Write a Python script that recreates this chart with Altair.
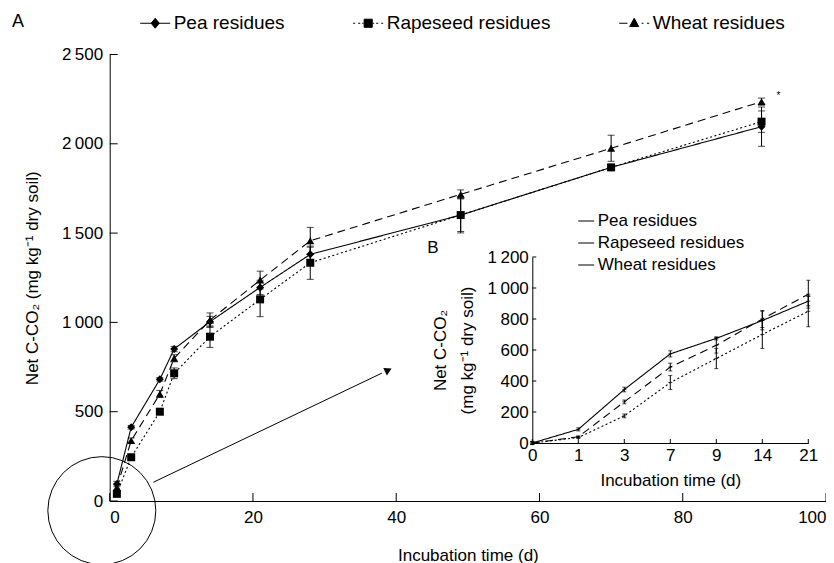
import altair as alt
import pandas as pd

series = ["Pea residues", "Rapeseed residues", "Wheat residues"]

# Main panel A (cumulative net C-CO2)
days = [1, 3, 7, 9, 14, 21, 28, 49, 70, 91]
pea = [95, 413, 681, 851, 1004, 1196, 1381, 1601, 1868, 2096]
pea_err = [15, 10, 10, 15, 30, 40, 40, 100, 15, 110]
rape = [40, 245, 500, 715, 920, 1129, 1334, 1601, 1868, 2124]
rape_err = [10, 15, 15, 30, 60, 97, 93, 92, 15, 60]
wheat = [75, 338, 599, 799, 1013, 1237, 1457, 1717, 1975, 2236]
wheat_err = [15, 15, 20, 20, 40, 50, 75, 25, 73, 20]

# Inset panel B
inset_days = ["0", "1", "3", "7", "9", "14", "21"]
inset_pea = [0, 88, 345, 575, 675, 790, 915]
inset_pea_err = [10, 10, 15, 20, 10, 60, 30]
inset_rape = [0, 35, 175, 390, 545, 700, 850]
inset_rape_err = [10, 6, 12, 45, 65, 90, 100]
inset_wheat = [0, 40, 265, 490, 630, 800, 960]
inset_wheat_err = [10, 6, 12, 25, 50, 55, 90]

x_ticks = [0, 20, 40, 60, 80, 100]
y_ticks = [0, 500, 1000, 1500, 2000, 2500]
inset_y_ticks = [0, 200, 400, 600, 800, 1000, 1200]

circle_center = [-1.1, -54]
arrow_x = [6.1, 38.0]
arrow_y = [105, 716]
arrow_head = [38.9, 733]
panel_labels = ["A", "B"]

legend_paths = [
    "M-1,0L1,0M0,-0.33L0.27,0L0,0.33L-0.27,0Z",
    "M-1,0L-0.87,0M-0.67,0L-0.53,0M-0.4,0L-0.3,0M0.3,0L0.4,0M0.53,0L0.67,0M0.87,0L1,0"
    "M-0.27,-0.27L0.27,-0.27L0.27,0.27L-0.27,0.27Z",
    "M-1,0L-0.45,0M0.5,0L0.62,0M0.85,0L1,0M0,-0.33L0.3,0.22L-0.3,0.22Z",
]

FONT = "Liberation Sans"
W, H = 716.3, 446.5
X0, Y0 = 109.7, 54.5
IX0, IX1 = 422.6, 698.6
IY0, IY1 = 388.5, 202.5


def long(xvals, vals_list, errs_list):
    rows = []
    for s, vals, errs in zip(series, vals_list, errs_list):
        for d, v, e in zip(xvals, vals, errs):
            rows.append(dict(series=s, day=d, value=v, lo=v - e, hi=v + e))
    return pd.DataFrame(rows)


main_df = long(days, [pea, rape, wheat], [pea_err, rape_err, wheat_err])
inset_df = long(inset_days, [inset_pea, inset_rape, inset_wheat],
                [inset_pea_err, inset_rape_err, inset_wheat_err])

sep = "replace(format(datum.value, ','), ',', '\u2009')"

xs = alt.Scale(domain=[0, 100], nice=False)
ys = alt.Scale(domain=[0, 2500], nice=False)
x_axis = alt.Axis(values=x_ticks, ticks=False, tickSize=0, labelPadding=8,
                  title="Incubation time (d)", titleY=54, titleBaseline="middle")
y_axis = alt.Axis(values=y_ticks, ticks=False, tickSize=0, labelPadding=7, labelExpr=sep,
                  title="Net C-CO\u2082 (mg kg\u207b\u00b9 dry soil)", titleX=-77, titleY=H / 2,
                  titleAngle=270, titleBaseline="middle")

X = alt.X("day:Q", scale=xs, axis=x_axis)
Y = alt.Y("value:Q", scale=ys, axis=y_axis)
dash_scale = alt.Scale(domain=series, range=[[1, 0], [2, 2.5], [8, 5]])

base = alt.Chart(main_df)
lines = base.mark_line(color="black", strokeWidth=1.1).encode(
    x=X, y=Y, strokeDash=alt.StrokeDash("series:N", scale=dash_scale, legend=None))
err = base.mark_rule(color="black", strokeWidth=1).encode(
    x=X, y=alt.Y("lo:Q", scale=ys, axis=y_axis), y2="hi:Q")
cap_lo = base.mark_point(shape="stroke", size=49, color="black", strokeWidth=1).encode(
    x=X, y=alt.Y("lo:Q", scale=ys, axis=y_axis))
cap_hi = base.mark_point(shape="stroke", size=49, color="black", strokeWidth=1).encode(
    x=X, y=alt.Y("hi:Q", scale=ys, axis=y_axis))
pts = base.mark_point(filled=True, size=64, color="black", opacity=1).encode(
    x=X, y=Y,
    shape=alt.Shape("series:N", scale=alt.Scale(domain=series, range=["diamond", "square", "triangle-up"]),
                    legend=None))
leg = alt.Chart(pd.DataFrame({"series": series})).mark_point(
    filled=True, fill="black", stroke="black", strokeWidth=1, size=0).encode(
    shape=alt.Shape("series:N", scale=alt.Scale(domain=series, range=legend_paths),
                    legend=alt.Legend(orient="none", legendX=30, legendY=-47, direction="horizontal",
                                      title=None, symbolSize=900, symbolStrokeWidth=1,
                                      symbolOpacity=1, labelFontSize=19, labelOffset=3,
                                      labelLimit=400, columnPadding=66, padding=0)))

xt = alt.Chart(pd.DataFrame({"v": x_ticks})).mark_rule(color="black", strokeWidth=1).encode(
    x=alt.X("v:Q", scale=xs, axis=x_axis), y=alt.value(H), y2=alt.value(H - 8))
yt = alt.Chart(pd.DataFrame({"v": y_ticks})).mark_rule(color="black", strokeWidth=1).encode(
    y=alt.Y("v:Q", scale=ys, axis=y_axis), x=alt.value(0), x2=alt.value(8))

star = alt.Chart(pd.DataFrame({"day": [days[-1]], "value": [wheat[-1]], "t": ["*"]})).mark_text(
    fontSize=10, dx=17, dy=-6, color="black").encode(x=X, y=Y, text="t:N")

circ = alt.Chart(pd.DataFrame({"day": [circle_center[0]], "value": [circle_center[1]]})).mark_point(
    shape="circle", size=11664, filled=False, color="black", strokeWidth=1, opacity=1).encode(x=X, y=Y)
arrow = alt.Chart(pd.DataFrame({"day": arrow_x, "value": arrow_y})).mark_line(
    color="black", strokeWidth=1).encode(x=X, y=Y)
head = alt.Chart(pd.DataFrame({"day": [arrow_head[0]], "value": [arrow_head[1]]})).mark_point(
    shape="triangle-right", size=70, filled=True, color="black", opacity=1, angle=334).encode(x=X, y=Y)

txtA = alt.Chart(pd.DataFrame({"t": [panel_labels[0]]})).mark_text(
    fontSize=18, align="left", baseline="middle", color="black").encode(
    text="t:N", x=alt.value(12 - X0), y=alt.value(22 - Y0))
txtB = alt.Chart(pd.DataFrame({"t": [panel_labels[1]]})).mark_text(
    fontSize=17, align="center", baseline="middle", color="black").encode(
    text="t:N", x=alt.value(433 - X0), y=alt.value(248 - Y0))

main = alt.layer(circ, arrow, head, lines, err, cap_lo, cap_hi, pts, leg, xt, yt, star, txtA, txtB
                 ).resolve_scale(shape="independent")

# Inset
ixs = alt.Scale(type="point", domain=inset_days, range=[IX0, IX1], padding=0)
iys = alt.Scale(domain=[0, 1200], range=[IY0, IY1], nice=False)
ix_axis = alt.Axis(orient="bottom", offset=-(H - IY0), ticks=False, tickSize=0, labelPadding=4,
                   labelAngle=0, title="Incubation time (d)", titleY=37, titleBaseline="middle")
iy_axis = alt.Axis(orient="left", offset=-IX0, values=inset_y_ticks, ticks=False, tickSize=0,
                   labelPadding=4, labelExpr=sep,
                   title=["Net C-CO\u2082", "(mg kg\u207b\u00b9 dry soil)"], titleX=-92, titleY=(IY0 + IY1) / 2,
                   titleAngle=270, titleBaseline="middle", titleLineHeight=27)
IX = alt.X("day:N", scale=ixs, axis=ix_axis, sort=inset_days)
IY = alt.Y("value:Q", scale=iys, axis=iy_axis)

ibase = alt.Chart(inset_df)
ilines = ibase.mark_line(strokeWidth=1.1).encode(
    x=IX, y=IY,
    strokeDash=alt.StrokeDash("series:N", scale=dash_scale, legend=None),
    color=alt.Color("series:N", scale=alt.Scale(domain=series, range=["black", "black", "black"]),
                    legend=alt.Legend(orient="none", legendX=468, legendY=158, direction="vertical",
                                      title=None, symbolType="stroke", symbolSize=256,
                                      symbolStrokeWidth=1, labelFontSize=17, labelOffset=3,
                                      labelLimit=400, rowPadding=4, padding=0)))
ierr = ibase.mark_rule(color="black", strokeWidth=1).encode(
    x=IX, y=alt.Y("lo:Q", scale=iys, axis=iy_axis), y2="hi:Q")
icap_lo = ibase.mark_point(shape="stroke", size=16, color="black", strokeWidth=1).encode(
    x=IX, y=alt.Y("lo:Q", scale=iys, axis=iy_axis))
icap_hi = ibase.mark_point(shape="stroke", size=16, color="black", strokeWidth=1).encode(
    x=IX, y=alt.Y("hi:Q", scale=iys, axis=iy_axis))
icap_mid = ibase.mark_point(shape="stroke", size=16, color="black", strokeWidth=1).encode(x=IX, y=IY)
ixt = alt.Chart(pd.DataFrame({"day": inset_days})).mark_rule(color="black", strokeWidth=1).encode(
    x=IX, y=alt.value(IY0), y2=alt.value(IY0 - 4))
iyt = alt.Chart(pd.DataFrame({"value": inset_y_ticks})).mark_rule(color="black", strokeWidth=1).encode(
    y=IY, x=alt.value(IX0), x2=alt.value(IX0 + 4))

inset = alt.layer(ilines, ierr, icap_lo, icap_hi, icap_mid, ixt, iyt)

chart = alt.layer(main, inset).resolve_scale(
    x="independent", y="independent", strokeDash="independent"
).resolve_axis(x="independent", y="independent").properties(
    width=W, height=H,
    autosize=alt.AutoSizeParams(type="none"),
    padding={"left": X0 - 8, "top": Y0 - 8, "right": 0, "bottom": 64},
).configure_view(stroke=None).configure_axis(
    labelFont=FONT, titleFont=FONT, labelFontSize=17, titleFontSize=17, titleFontWeight="normal",
    labelColor="black", titleColor="black", domainColor="black", domainWidth=1, grid=False,
).configure_legend(labelFont=FONT, labelColor="black").configure_text(font=FONT)

chart.save("out.html", embed_options={"renderer": "svg", "actions": False})
